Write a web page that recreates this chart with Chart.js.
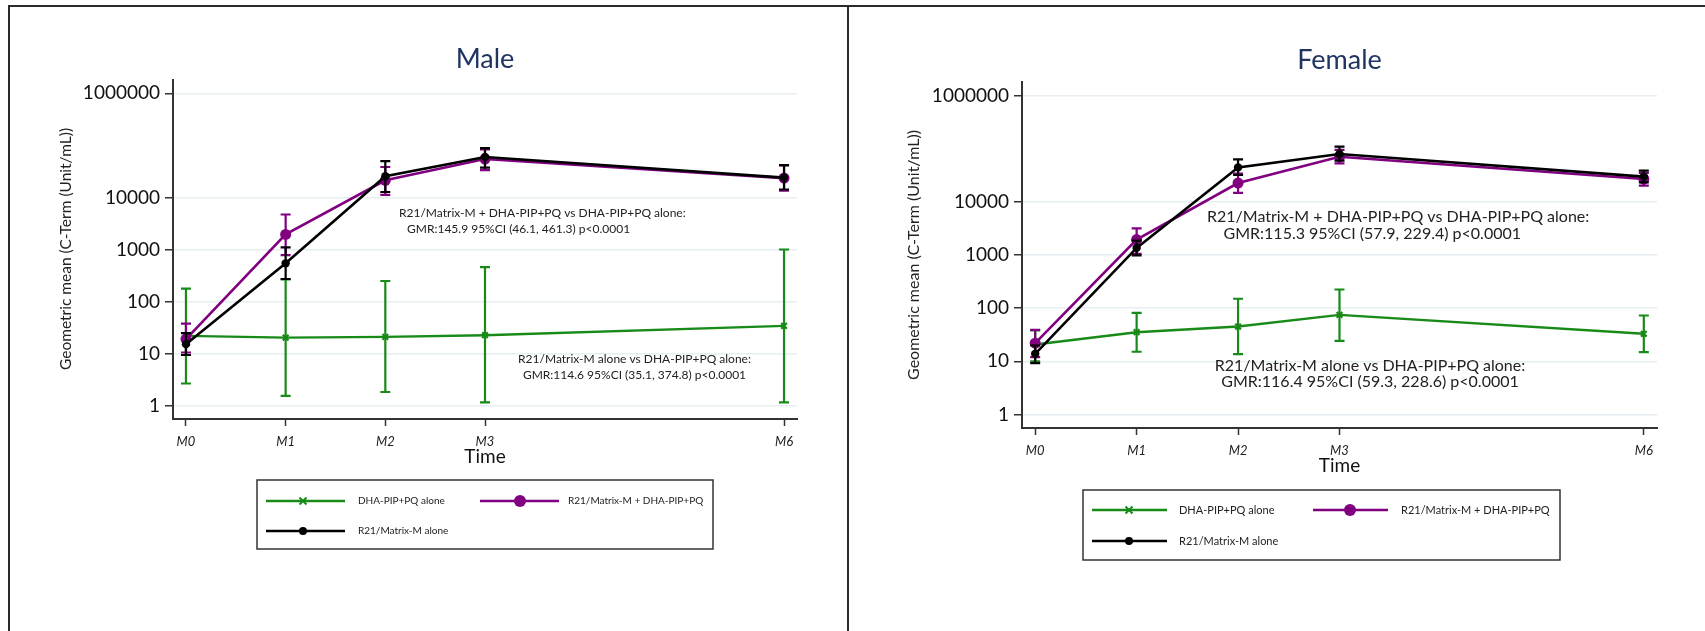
<!DOCTYPE html>
<html>
<head>
<meta charset="utf-8">
<script src="https://cdn.jsdelivr.net/npm/chart.js@4.4.1/dist/chart.umd.min.js"></script>
<style>
  html, body { margin: 0; padding: 0; background: #fff; }
  #page { position: relative; width: 1705px; height: 631px; overflow: hidden; background: #fff; }
  #page canvas { position: absolute; top: 0; }
  .rule { position: absolute; background: #2a2a2a; }
</style>
</head>
<body>
<div id="page">
  <canvas id="male" width="848" height="631" style="left:0"></canvas>
  <canvas id="female" width="857" height="631" style="left:848px"></canvas>
  <div class="rule" style="left:9px;top:5px;width:1696px;height:2px"></div>
  <div class="rule" style="left:8px;top:5px;width:2px;height:626px"></div>
  <div class="rule" style="left:847px;top:5px;width:2px;height:626px"></div>
</div>
<script>
// ---- time axis ----
const months = [0, 1, 2, 3, 6];
const timeLabels = ['M0', 'M1', 'M2', 'M3', 'M6'];
const yTickValues = [1, 10, 100, 1000, 10000, 1000000];

const seriesNames = ['DHA-PIP+PQ alone', 'R21/Matrix-M + DHA-PIP+PQ', 'R21/Matrix-M alone'];

// ---- Male: geometric means with 95% CI ----
const maleDhaMean   = [21.9, 20.3, 21.0, 22.6, 34.1];
const maleDhaLow    = [2.67, 1.55, 1.83, 1.16, 1.16];
const maleDhaHigh   = [177, 266, 248, 460, 1000];
const maleComboMean = [19.0, 1950, 21300, 54700, 23500];
const maleComboLow  = [10.5, 782, 11200, 33500, 13500];
const maleComboHigh = [37.7, 4700, 38400, 84000, 41000];
const maleR21Mean   = [15.2, 542, 25500, 59700, 24000];
const maleR21Low    = [9.4, 271, 12700, 37400, 14200];
const maleR21High   = [24.7, 1097, 50000, 88800, 41900];

// ---- Female: geometric means with 95% CI ----
const femaleDhaMean   = [20.7, 35.2, 45.0, 74.8, 32.9];
const femaleDhaLow    = [10.0, 15.1, 13.6, 24.3, 14.8];
const femaleDhaHigh   = [38.0, 81.5, 150, 224, 72.6];
const femaleComboMean = [21.9, 1946, 22600, 70700, 26900];
const femaleComboLow  = [12.0, 1050, 14700, 53000, 20200];
const femaleComboHigh = [39.0, 3180, 34000, 95000, 35000];
const femaleR21Mean   = [13.8, 1360, 44500, 79400, 29800];
const femaleR21Low    = [9.2, 986, 32000, 59500, 23300];
const femaleR21High   = [19.8, 1866, 63000, 109000, 38600];

// ---- comparison notes ----
const maleNotes = [
  'R21/Matrix-M + DHA-PIP+PQ vs DHA-PIP+PQ alone:',
  'GMR:145.9 95%CI (46.1, 461.3) p<0.0001',
  'R21/Matrix-M alone vs DHA-PIP+PQ alone:',
  'GMR:114.6 95%CI (35.1, 374.8) p<0.0001'
];
const femaleNotes = [
  'R21/Matrix-M + DHA-PIP+PQ vs DHA-PIP+PQ alone:',
  'GMR:115.3 95%CI (57.9, 229.4) p<0.0001',
  'R21/Matrix-M alone vs DHA-PIP+PQ alone:',
  'GMR:116.4 95%CI (59.3, 228.6) p<0.0001'
];

const GREEN = '#178a17';
const PURPLE = '#800080';
const BLACK = '#000000';
const FONT = 'Lato, "Open Sans", sans-serif';

Chart.defaults.font.family = FONT;

function points(values) {
  return values.map((v, i) => ({ x: months[i], y: v }));
}

function drawMarker(ctx, style, x, y, r, color) {
  ctx.save();
  ctx.strokeStyle = color;
  ctx.fillStyle = color;
  if (style === 'crossRot') {
    ctx.lineWidth = 2;
    ctx.beginPath();
    ctx.moveTo(x - r, y - r); ctx.lineTo(x + r, y + r);
    ctx.moveTo(x - r, y + r); ctx.lineTo(x + r, y - r);
    ctx.stroke();
  } else {
    ctx.beginPath();
    ctx.arc(x, y, r, 0, Math.PI * 2);
    ctx.fill();
  }
  ctx.restore();
}

// Error bars under each series, plus titles, notes and the boxed key
const panelDecor = {
  id: 'panelDecor',
  beforeDatasetDraw(chart, args) {
    const ds = chart.data.datasets[args.index];
    if (!ds.errLow) return;
    const { ctx, scales: { x, y } } = chart;
    const cap = 5;
    ctx.save();
    ctx.strokeStyle = ds.borderColor;
    ctx.lineWidth = 2.2;
    ds.data.forEach((pt, i) => {
      const px = x.getPixelForValue(pt.x);
      const top = y.getPixelForValue(ds.errHigh[i]);
      const bot = y.getPixelForValue(ds.errLow[i]);
      ctx.beginPath();
      ctx.moveTo(px, top); ctx.lineTo(px, bot);
      ctx.moveTo(px - cap, top); ctx.lineTo(px + cap, top);
      ctx.moveTo(px - cap, bot); ctx.lineTo(px + cap, bot);
      ctx.stroke();
    });
    ctx.restore();
  },
  afterDraw(chart, args, o) {
    const { ctx, chartArea: ca } = chart;
    const cx = (ca.left + ca.right) / 2;
    ctx.save();
    ctx.textBaseline = 'middle';

    // panel title
    ctx.fillStyle = '#1f3461';
    ctx.textAlign = 'center';
    ctx.font = `27px ${FONT}`;
    ctx.fillText(o.title, cx, o.titleY);

    // x axis title
    ctx.fillStyle = '#111';
    ctx.font = `19px ${FONT}`;
    ctx.fillText('Time', cx, o.timeY);

    // y axis title
    ctx.save();
    ctx.translate(o.yTitleX, o.yTitleY);
    ctx.rotate(-Math.PI / 2);
    ctx.font = `${o.yTitleSize}px ${FONT}`;
    ctx.fillStyle = '#222';
    ctx.fillText('Geometric mean (C-Term (Unit/mL))', 0, 0);
    ctx.restore();

    // comparison notes
    ctx.fillStyle = '#222';
    ctx.font = `${o.noteSize}px ${FONT}`;
    o.notes.forEach((text, i) => {
      const p = o.notePos[i];
      ctx.textAlign = p.align;
      ctx.fillText(text, p.x, p.y);
    });

    // key box
    const lg = o.legend;
    ctx.strokeStyle = '#333';
    ctx.lineWidth = 1.5;
    ctx.strokeRect(lg.box[0], lg.box[1], lg.box[2] - lg.box[0], lg.box[3] - lg.box[1]);
    ctx.font = `${lg.size}px ${FONT}`;
    ctx.textAlign = 'left';
    const slots = [[0, 0], [0, 1], [1, 0]];
    chart.data.datasets.forEach((ds, i) => {
      const [row, col] = slots[i];
      const c = lg.cols[col];
      const yy = lg.rows[row];
      ctx.strokeStyle = ds.borderColor;
      ctx.lineWidth = ds.borderWidth;
      ctx.beginPath();
      ctx.moveTo(c.x1, yy); ctx.lineTo(c.x2, yy);
      ctx.stroke();
      drawMarker(ctx, ds.pointStyle, c.mx, yy, ds.keyRadius, ds.borderColor);
      ctx.fillStyle = '#222';
      ctx.fillText(ds.label, c.tx, yy);
    });
    ctx.restore();
  }
};

function buildPanel(id, series, layout, decor) {
  const datasets = [
    {
      label: seriesNames[0], data: points(series[0].mean), errLow: series[0].low, errHigh: series[0].high,
      borderColor: GREEN, backgroundColor: GREEN, borderWidth: 2.4,
      pointStyle: 'crossRot', pointRadius: 4, pointBorderWidth: 2.2, keyRadius: 3.5, order: 2
    },
    {
      label: seriesNames[1], data: points(series[1].mean), errLow: series[1].low, errHigh: series[1].high,
      borderColor: PURPLE, backgroundColor: PURPLE, borderWidth: 2.6,
      pointStyle: 'circle', pointRadius: 5.5, pointBorderWidth: 0, keyRadius: 6, order: 1
    },
    {
      label: seriesNames[2], data: points(series[2].mean), errLow: series[2].low, errHigh: series[2].high,
      borderColor: BLACK, backgroundColor: BLACK, borderWidth: 2.6,
      pointStyle: 'circle', pointRadius: 4.2, pointBorderWidth: 0, keyRadius: 4, order: 0
    }
  ];

  return new Chart(document.getElementById(id), {
    type: 'line',
    data: { datasets },
    plugins: [panelDecor],
    options: {
      responsive: false,
      animation: false,
      events: [],
      elements: { line: { tension: 0 } },
      layout: { autoPadding: false, padding: layout.padding },
      plugins: {
        legend: { display: false },
        tooltip: { enabled: false },
        panelDecor: decor
      },
      scales: {
        x: {
          type: 'linear',
          min: -0.13,
          max: 6.13,
          afterBuildTicks: s => { s.ticks = months.map(v => ({ value: v })); },
          afterFit: s => { s.height = 60; },
          grid: { drawOnChartArea: false, tickLength: 7, tickColor: '#333', tickWidth: 1.5 },
          border: { color: '#333', width: 2 },
          ticks: {
            padding: 8, color: '#222', autoSkip: false, maxRotation: 0,
            font: { size: 13, style: 'italic' },
            callback: v => timeLabels[months.indexOf(v)]
          }
        },
        y: {
          type: 'logarithmic',
          min: 0.555,
          max: 1.8e6,
          afterBuildTicks: s => { s.ticks = yTickValues.map(v => ({ value: v })); },
          afterFit: s => { s.width = layout.yWidth; },
          grid: { color: '#e6eef1', lineWidth: 1.5, tickLength: 8, tickColor: '#333', tickWidth: 1.5 },
          border: { color: '#333', width: 2 },
          ticks: {
            padding: 5, color: '#111', autoSkip: false,
            font: { size: 19 },
            callback: v => String(v)
          }
        }
      }
    }
  });
}

function build() {
  buildPanel('male', [
    { mean: maleDhaMean, low: maleDhaLow, high: maleDhaHigh },
    { mean: maleComboMean, low: maleComboLow, high: maleComboHigh },
    { mean: maleR21Mean, low: maleR21Low, high: maleR21High }
  ], {
    padding: { left: 0, top: 80, right: 51, bottom: 152 },
    yWidth: 173
  }, {
    title: 'Male', titleY: 59, timeY: 457,
    yTitleX: 66, yTitleY: 249, yTitleSize: 15.5,
    notes: maleNotes, noteSize: 12,
    notePos: [
      { x: 399, y: 213, align: 'left' },
      { x: 407, y: 229, align: 'left' },
      { x: 634.5, y: 359, align: 'center' },
      { x: 634.5, y: 375, align: 'center' }
    ],
    legend: {
      box: [257, 480, 713, 549], rows: [501, 531], size: 10,
      cols: [{ x1: 266, x2: 345, mx: 303, tx: 358 }, { x1: 480, x2: 559, mx: 520, tx: 568 }]
    }
  });

  buildPanel('female', [
    { mean: femaleDhaMean, low: femaleDhaLow, high: femaleDhaHigh },
    { mean: femaleComboMean, low: femaleComboLow, high: femaleComboHigh },
    { mean: femaleR21Mean, low: femaleR21Low, high: femaleR21High }
  ], {
    padding: { left: 0, top: 82, right: 48, bottom: 143 },
    yWidth: 174
  }, {
    title: 'Female', titleY: 60, timeY: 466,
    yTitleX: 66, yTitleY: 255, yTitleSize: 16,
    notes: femaleNotes, noteSize: 16,
    notePos: [
      { x: 359, y: 217, align: 'left' },
      { x: 375.5, y: 234, align: 'left' },
      { x: 522, y: 366, align: 'center' },
      { x: 522, y: 382, align: 'center' }
    ],
    legend: {
      box: [235, 490, 712, 560], rows: [510, 541], size: 11,
      cols: [{ x1: 244, x2: 319, mx: 281, tx: 331 }, { x1: 465, x2: 540, mx: 502, tx: 553 }]
    }
  });
}

if (document.fonts && document.fonts.load) {
  Promise.all([
    document.fonts.load('12px Lato'),
    document.fonts.load('italic 12px Lato')
  ]).then(build, build);
} else {
  build();
}
</script>
</body>
</html>
